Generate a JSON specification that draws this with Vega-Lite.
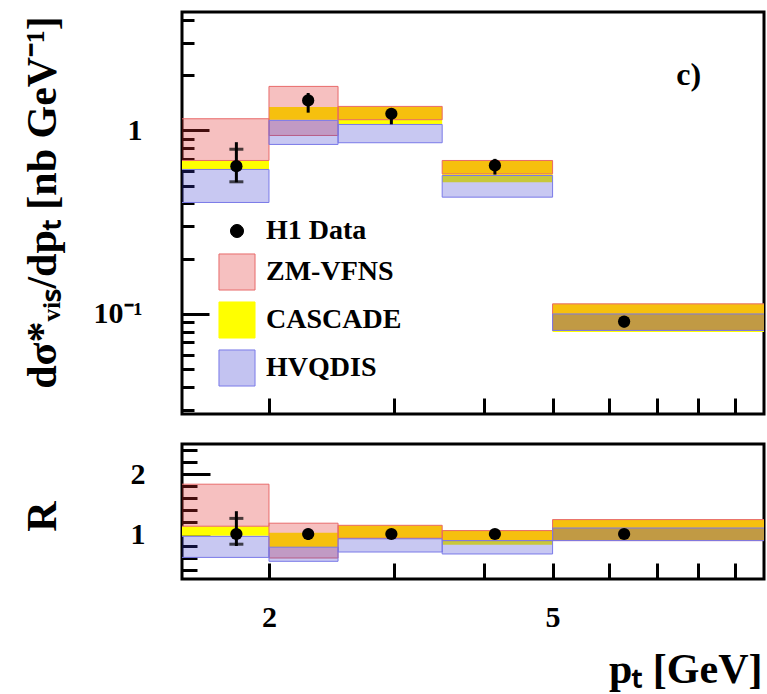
{
  "$schema": "https://vega.github.io/schema/vega-lite/v6.json",
  "padding": {"left": 19, "top": 3, "right": 0, "bottom": 0},
  "background": "white",
  "datasets": {
    "bands": [
      {"panel": "top", "model": "CASCADE", "xlo": 1.5, "xhi": 2, "lo": 0.613, "hi": 0.686},
      {"panel": "top", "model": "CASCADE", "xlo": 2, "xhi": 2.5, "lo": 1.144, "hi": 1.34},
      {"panel": "top", "model": "CASCADE", "xlo": 2.5, "xhi": 3.5, "lo": 1.078, "hi": 1.352},
      {"panel": "top", "model": "CASCADE", "xlo": 3.5, "xhi": 5, "lo": 0.522, "hi": 0.686},
      {"panel": "top", "model": "CASCADE", "xlo": 5, "xhi": 10, "lo": 0.0797, "hi": 0.1135},
      {"panel": "top", "model": "ZM-VFNS", "xlo": 1.5, "xhi": 2, "lo": 0.686, "hi": 1.158},
      {"panel": "top", "model": "ZM-VFNS", "xlo": 2, "xhi": 2.5, "lo": 0.939, "hi": 1.738},
      {"panel": "top", "model": "ZM-VFNS", "xlo": 2.5, "xhi": 3.5, "lo": 1.144, "hi": 1.352},
      {"panel": "top", "model": "ZM-VFNS", "xlo": 3.5, "xhi": 5, "lo": 0.58, "hi": 0.686},
      {"panel": "top", "model": "ZM-VFNS", "xlo": 5, "xhi": 10, "lo": 0.0813, "hi": 0.1135},
      {"panel": "top", "model": "HVQDIS", "xlo": 1.5, "xhi": 2, "lo": 0.405, "hi": 0.613},
      {"panel": "top", "model": "HVQDIS", "xlo": 2, "xhi": 2.5, "lo": 0.839, "hi": 1.134},
      {"panel": "top", "model": "HVQDIS", "xlo": 2.5, "xhi": 3.5, "lo": 0.857, "hi": 1.078},
      {"panel": "top", "model": "HVQDIS", "xlo": 3.5, "xhi": 5, "lo": 0.433, "hi": 0.568},
      {"panel": "top", "model": "HVQDIS", "xlo": 5, "xhi": 10, "lo": 0.0813, "hi": 0.1},
      {"panel": "bottom", "model": "CASCADE", "xlo": 1.5, "xhi": 2, "lo": 0.97, "hi": 1.13},
      {"panel": "bottom", "model": "CASCADE", "xlo": 2, "xhi": 2.5, "lo": 0.78, "hi": 1.02},
      {"panel": "bottom", "model": "CASCADE", "xlo": 2.5, "xhi": 3.5, "lo": 0.92, "hi": 1.145},
      {"panel": "bottom", "model": "CASCADE", "xlo": 3.5, "xhi": 5, "lo": 0.82, "hi": 1.057},
      {"panel": "bottom", "model": "CASCADE", "xlo": 5, "xhi": 10, "lo": 0.89, "hi": 1.24},
      {"panel": "bottom", "model": "ZM-VFNS", "xlo": 1.5, "xhi": 2, "lo": 1.13, "hi": 1.83},
      {"panel": "bottom", "model": "ZM-VFNS", "xlo": 2, "xhi": 2.5, "lo": 0.6, "hi": 1.18},
      {"panel": "bottom", "model": "ZM-VFNS", "xlo": 2.5, "xhi": 3.5, "lo": 0.93, "hi": 1.145},
      {"panel": "bottom", "model": "ZM-VFNS", "xlo": 3.5, "xhi": 5, "lo": 0.89, "hi": 1.057},
      {"panel": "bottom", "model": "ZM-VFNS", "xlo": 5, "xhi": 10, "lo": 0.89, "hi": 1.24},
      {"panel": "bottom", "model": "HVQDIS", "xlo": 1.5, "xhi": 2, "lo": 0.61, "hi": 0.96},
      {"panel": "bottom", "model": "HVQDIS", "xlo": 2, "xhi": 2.5, "lo": 0.545, "hi": 0.78},
      {"panel": "bottom", "model": "HVQDIS", "xlo": 2.5, "xhi": 3.5, "lo": 0.7, "hi": 0.92},
      {"panel": "bottom", "model": "HVQDIS", "xlo": 3.5, "xhi": 5, "lo": 0.667, "hi": 0.89},
      {"panel": "bottom", "model": "HVQDIS", "xlo": 5, "xhi": 10, "lo": 0.89, "hi": 1.1}
    ],
    "points": [
      {"panel": "top", "x": 1.8, "y": 0.639, "lo": 0.522, "hi": 0.863},
      {"panel": "top", "x": 2.27, "y": 1.458, "lo": 1.25, "hi": 1.6},
      {"panel": "top", "x": 2.97, "y": 1.233, "lo": 1.08, "hi": 1.3},
      {"panel": "top", "x": 4.15, "y": 0.645, "lo": 0.575, "hi": 0.7},
      {"panel": "top", "x": 6.3, "y": 0.0909, "lo": 0.0845, "hi": 0.097},
      {"panel": "bottom", "x": 1.8, "y": 1, "lo": 0.8, "hi": 1.38},
      {"panel": "bottom", "x": 2.27, "y": 1, "lo": 0.9, "hi": 1.09},
      {"panel": "bottom", "x": 2.97, "y": 1, "lo": 0.93, "hi": 1.06},
      {"panel": "bottom", "x": 4.15, "y": 1, "lo": 0.93, "hi": 1.07},
      {"panel": "bottom", "x": 6.3, "y": 1, "lo": 0.94, "hi": 1.06}
    ],
    "caps": [
      {"panel": "top", "x": 1.8, "y": 0.79},
      {"panel": "top", "x": 1.8, "y": 0.525},
      {"panel": "bottom", "x": 1.8, "y": 1.26},
      {"panel": "bottom", "x": 1.8, "y": 0.83}
    ]
  },
  "vconcat": [
    {
      "width": 582,
      "height": 402,
      "encoding": {
        "x": {"type": "quantitative", "scale": {"type": "log", "domain": [1.51, 9.9], "nice": false}},
        "y": {"type": "quantitative", "scale": {"type": "log", "domain": [0.0285, 4.42], "nice": false}}
      },
      "resolve": {"axis": {"y": "independent"}},
      "layer": [
        {
          "data": {"name": "bands"},
          "transform": [{"filter": "datum.panel === 'top' && datum.model === 'CASCADE'"}],
          "mark": {"type": "rect", "clip": true, "fillOpacity": 1, "strokeWidth": 0},
          "encoding": {
            "x": {"field": "xlo", "type": "quantitative",
              "axis": {"values": [2, 3, 4, 5, 6, 7, 8, 9], "labels": false, "title": null, "tickSize": -16}},
            "x2": {"field": "xhi"},
            "y": {"field": "lo", "type": "quantitative",
              "axis": {"orient": "left", "values": [0.03, 0.04, 0.05, 0.06, 0.07, 0.08, 0.09, 0.1, 0.2, 0.3, 0.4, 0.5, 0.6, 0.7, 0.8, 0.9, 1, 2, 3, 4],
                "labelExpr": "abs(datum.value - 1) < 0.001 ? '1' : (abs(datum.value - 0.1) < 0.0001 ? '10⁻¹' : '')",
                "labelOverlap": false,
                "tickSize": -12, "labelPadding": 52,
                "title": "dσ*ᵥᵢₛ/dpₜ [nb GeV⁻¹]",
                "titleX": -140, "titleY": 190, "titleAlign": "center", "titleBaseline": "middle", "titleAngle": -90}},
            "y2": {"field": "hi"},
            "fill": {"field": "model", "type": "nominal",
              "scale": {"domain": ["H1 Data", "ZM-VFNS", "CASCADE", "HVQDIS"], "range": ["black", "#e03030", "#ffff00", "#3838d0"]},
              "legend": {
                "orient": "none", "legendX": 36, "legendY": 200, "title": null,
                "symbolType": "square", "symbolSize": 1300, "rowPadding": 6,
                "labelFont": "Liberation Serif", "labelFontWeight": "bold", "labelFontSize": 28, "labelColor": "black", "labelOffset": 10,
                "encode": {"symbols": {"update": {
                  "shape": {"signal": "datum.value === 'H1 Data' ? 'circle' : 'square'"},
                  "size": {"signal": "datum.value === 'H1 Data' ? 170 : 1300"},
                  "fillOpacity": {"signal": "datum.value === 'ZM-VFNS' || datum.value === 'HVQDIS' ? 0.3 : 1"},
                  "stroke": {"signal": "datum.value === 'ZM-VFNS' ? '#e86a6a' : (datum.value === 'HVQDIS' ? '#7a7ae8' : (datum.value === 'CASCADE' ? '#ffff00' : 'black'))"},
                  "strokeWidth": {"value": 1}
                }}}
              }}
          }
        },
        {
          "data": {"name": "bands"},
          "transform": [{"filter": "datum.panel === 'top' && datum.model === 'ZM-VFNS'"}],
          "mark": {"type": "rect", "clip": true, "fillOpacity": 0.3, "stroke": "#e86a6a", "strokeWidth": 1},
          "encoding": {
            "x": {"field": "xlo", "type": "quantitative"},
            "x2": {"field": "xhi"},
            "y": {"field": "lo", "type": "quantitative", "axis": null},
            "y2": {"field": "hi"},
            "fill": {"field": "model", "type": "nominal"}
          }
        },
        {
          "data": {"name": "bands"},
          "transform": [{"filter": "datum.panel === 'top' && datum.model === 'HVQDIS'"}],
          "mark": {"type": "rect", "clip": true, "fillOpacity": 0.28, "stroke": "#7a7ae8", "strokeWidth": 1},
          "encoding": {
            "x": {"field": "xlo", "type": "quantitative"},
            "x2": {"field": "xhi"},
            "y": {"field": "lo", "type": "quantitative", "axis": null},
            "y2": {"field": "hi"},
            "fill": {"field": "model", "type": "nominal"}
          }
        },
        {
          "data": {"name": "points"},
          "transform": [{"filter": "datum.panel === 'top'"}],
          "mark": {"type": "rule", "strokeWidth": 3, "color": "black"},
          "encoding": {
            "x": {"field": "x", "type": "quantitative"},
            "y": {"field": "lo", "type": "quantitative",
              "axis": {"orient": "left", "values": [0.1, 1], "labels": false, "title": null, "tickSize": -27}},
            "y2": {"field": "hi"}
          }
        },
        {
          "data": {"name": "caps"},
          "transform": [{"filter": "datum.panel === 'top'"}],
          "mark": {"type": "tick", "orient": "horizontal", "size": 14, "thickness": 3, "color": "black"},
          "encoding": {
            "x": {"field": "x", "type": "quantitative"},
            "y": {"field": "y", "type": "quantitative", "axis": null}
          }
        },
        {
          "data": {"name": "points"},
          "transform": [{"filter": "datum.panel === 'top'"}],
          "mark": {"type": "circle", "size": 150, "opacity": 1, "color": "black"},
          "encoding": {
            "x": {"field": "x", "type": "quantitative"},
            "y": {"field": "y", "type": "quantitative", "axis": null}
          }
        },
        {
          "data": {"values": [{"label": "c)", "x": 7.76, "y": 2.0}]},
          "mark": {"type": "text", "font": "Liberation Serif", "fontWeight": "bold", "fontSize": 32, "color": "black"},
          "encoding": {
            "x": {"field": "x", "type": "quantitative"},
            "y": {"field": "y", "type": "quantitative", "axis": null},
            "text": {"field": "label"}
          }
        }
      ]
    },
    {
      "width": 582,
      "height": 135,
      "encoding": {
        "x": {"type": "quantitative", "scale": {"type": "log", "domain": [1.51, 9.9], "nice": false}},
        "y": {"type": "quantitative", "scale": {"type": "linear", "domain": [0.25, 2.5], "nice": false, "zero": false}}
      },
      "resolve": {"axis": {"y": "independent"}},
      "layer": [
        {
          "data": {"name": "bands"},
          "transform": [{"filter": "datum.panel === 'bottom' && datum.model === 'CASCADE'"}],
          "mark": {"type": "rect", "clip": true, "fillOpacity": 1, "strokeWidth": 0},
          "encoding": {
            "x": {"field": "xlo", "type": "quantitative",
              "axis": {"values": [2, 3, 4, 5, 6, 7, 8, 9], "tickSize": -16, "labelPadding": 39, "labelOverlap": false,
                "labelExpr": "abs(datum.value - 2) < 0.001 ? '2' : (abs(datum.value - 5) < 0.001 ? '5' : '')",
                "title": "pₜ [GeV]", "titleAnchor": "end", "titleAlign": "right", "titleX": 580, "titleY": 90, "titleBaseline": "middle"}},
            "x2": {"field": "xhi"},
            "y": {"field": "lo", "type": "quantitative",
              "axis": {"orient": "left", "values": [0.4, 0.6, 0.8, 1, 1.2, 1.4, 1.6, 1.8, 2, 2.2, 2.4],
                "labelExpr": "abs(datum.value - 1) < 0.001 ? '1' : (abs(datum.value - 2) < 0.001 ? '2' : '')",
                "labelOverlap": false,
                "tickSize": -15, "labelPadding": 52,
                "title": "R", "titleX": -140, "titleY": 72, "titleAlign": "center", "titleBaseline": "middle", "titleAngle": -90}},
            "y2": {"field": "hi"},
            "fill": {"field": "model", "type": "nominal"}
          }
        },
        {
          "data": {"name": "bands"},
          "transform": [{"filter": "datum.panel === 'bottom' && datum.model === 'ZM-VFNS'"}],
          "mark": {"type": "rect", "clip": true, "fillOpacity": 0.3, "stroke": "#e86a6a", "strokeWidth": 1},
          "encoding": {
            "x": {"field": "xlo", "type": "quantitative"},
            "x2": {"field": "xhi"},
            "y": {"field": "lo", "type": "quantitative", "axis": null},
            "y2": {"field": "hi"},
            "fill": {"field": "model", "type": "nominal"}
          }
        },
        {
          "data": {"name": "bands"},
          "transform": [{"filter": "datum.panel === 'bottom' && datum.model === 'HVQDIS'"}],
          "mark": {"type": "rect", "clip": true, "fillOpacity": 0.28, "stroke": "#7a7ae8", "strokeWidth": 1},
          "encoding": {
            "x": {"field": "xlo", "type": "quantitative"},
            "x2": {"field": "xhi"},
            "y": {"field": "lo", "type": "quantitative", "axis": null},
            "y2": {"field": "hi"},
            "fill": {"field": "model", "type": "nominal"}
          }
        },
        {
          "data": {"name": "points"},
          "transform": [{"filter": "datum.panel === 'bottom'"}],
          "mark": {"type": "rule", "strokeWidth": 3, "color": "black"},
          "encoding": {
            "x": {"field": "x", "type": "quantitative"},
            "y": {"field": "lo", "type": "quantitative",
              "axis": {"orient": "left", "values": [1, 2], "labels": false, "title": null, "tickSize": -28}},
            "y2": {"field": "hi"}
          }
        },
        {
          "data": {"name": "caps"},
          "transform": [{"filter": "datum.panel === 'bottom'"}],
          "mark": {"type": "tick", "orient": "horizontal", "size": 14, "thickness": 3, "color": "black"},
          "encoding": {
            "x": {"field": "x", "type": "quantitative"},
            "y": {"field": "y", "type": "quantitative", "axis": null}
          }
        },
        {
          "data": {"name": "points"},
          "transform": [{"filter": "datum.panel === 'bottom'"}],
          "mark": {"type": "circle", "size": 150, "opacity": 1, "color": "black"},
          "encoding": {
            "x": {"field": "x", "type": "quantitative"},
            "y": {"field": "y", "type": "quantitative", "axis": null}
          }
        }
      ]
    }
  ],
  "spacing": 30,
  "bounds": "flush",
  "resolve": {"scale": {"fill": "shared"}, "legend": {"fill": "shared"}},
  "config": {
    "font": "Liberation Serif",
    "view": {"stroke": "black", "strokeWidth": 3},
    "axis": {
      "grid": false, "domain": false, "zindex": 1,
      "tickColor": "black", "tickWidth": 3,
      "labelFont": "Liberation Serif", "labelFontWeight": "bold", "labelFontSize": 30, "labelColor": "black",
      "titleFont": "Liberation Serif", "titleFontWeight": "bold", "titleFontSize": 42, "titleColor": "black",
      "labelOverlap": false, "labelFlush": false, "labelBound": false
    }
  }
}
